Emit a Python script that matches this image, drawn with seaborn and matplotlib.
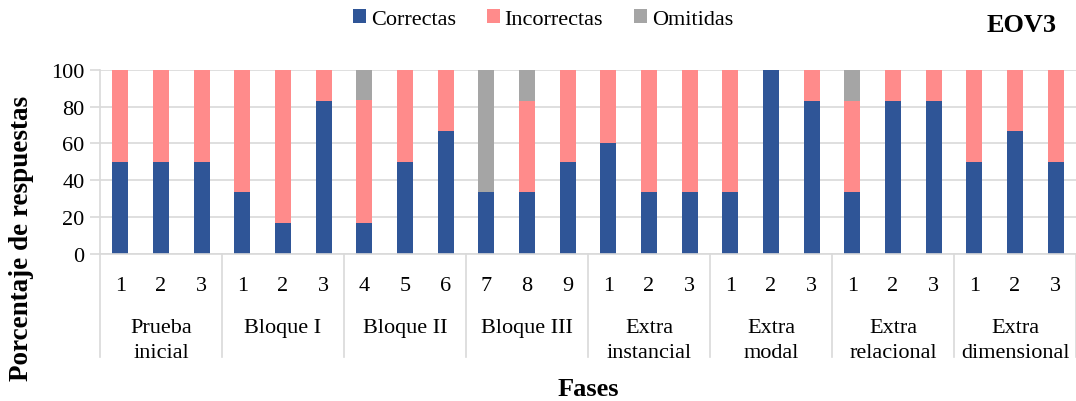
import numpy as np
import pandas as pd
import matplotlib
matplotlib.use("Agg")
import matplotlib.pyplot as plt
import matplotlib.transforms as mtransforms
from matplotlib.patches import Patch
import seaborn as sns

# data
grupos = ["Prueba\ninicial", "Bloque I", "Bloque II", "Bloque III",
          "Extra\ninstancial", "Extra\nmodal", "Extra\nrelacional", "Extra\ndimensional"]
ensayos = [["1", "2", "3"], ["1", "2", "3"], ["4", "5", "6"], ["7", "8", "9"],
           ["1", "2", "3"], ["1", "2", "3"], ["1", "2", "3"], ["1", "2", "3"]]
correctas = [50, 50, 50, 33.3, 16.7, 83.3, 16.7, 50, 66.7, 33.3, 33.3, 50,
             60, 33.3, 33.3, 33.3, 100, 83.3, 33.3, 83.3, 83.3, 50, 66.7, 50]
incorrectas = [50, 50, 50, 66.7, 83.3, 16.7, 66.7, 50, 33.3, 0, 50, 50,
               40, 66.7, 66.7, 66.7, 0, 16.7, 50, 16.7, 16.7, 50, 33.3, 50]
omitidas = [0, 0, 0, 0, 0, 0, 16.6, 0, 0, 66.7, 16.7, 0,
            0, 0, 0, 0, 0, 0, 16.7, 0, 0, 0, 0, 0]

series = ["Correctas", "Incorrectas", "Omitidas"]
colores = ["#2F5597", "#FF8B8B", "#A5A5A5"]

etiquetas = [e for grupo in ensayos for e in grupo]
claves = [f"{g}|{i}" for g in range(len(grupos)) for i in range(3)]
df = pd.DataFrame({"clave": claves, "C": correctas, "I": incorrectas, "O": omitidas})
df["CI"] = df["C"] + df["I"]
df["CIO"] = df["CI"] + df["O"]

plt.rcParams["font.family"] = ["Liberation Serif", "DejaVu Serif"]
fig = plt.figure(figsize=(10.76, 4.02), dpi=100)
ax = fig.add_axes([100 / 1076, 1 - 254.5 / 402, 976 / 1076, 183.5 / 402])

# stacked bars: draw cumulative totals from the tallest down
for col, color in zip(["CIO", "CI", "C"], colores[::-1]):
    sns.barplot(data=df, x="clave", y=col, order=claves, color=color,
                width=0.4, ax=ax, saturation=1, edgecolor="none")

ax.set_ylim(0, 100)
ax.set_xlim(-0.5, len(claves) - 0.5)
ax.set_yticks(range(0, 101, 20))
ax.yaxis.grid(True, color="#D9D9D9", linewidth=1.2)
ax.set_axisbelow(True)
ax.tick_params(axis="y", length=7, color="#D9D9D9", width=1.2, labelsize=16, pad=4)
ax.tick_params(axis="x", length=0, labelsize=16, pad=16)
ax.set_xticks(range(len(claves)))
ax.set_xticklabels(etiquetas)
ax.set_xlabel("")
ax.set_ylabel("")
for s in ["top", "right"]:
    ax.spines[s].set_visible(False)
ax.spines["left"].set_color("#D9D9D9")
ax.spines["bottom"].set_color("#D9D9D9")
ax.spines["left"].set_linewidth(1.2)
ax.spines["bottom"].set_linewidth(1.2)

# group separators and group labels
trans = mtransforms.blended_transform_factory(ax.transData, ax.transAxes)
for k in range(len(grupos) + 1):
    ax.plot([k * 3 - 0.5, k * 3 - 0.5], [0, -0.565], color="#D9D9D9",
            linewidth=1.2, transform=trans, clip_on=False)
for k, g in enumerate(grupos):
    ax.text(k * 3 + 1, -0.35, g, transform=trans, ha="center", va="top",
            fontsize=16, linespacing=1.45)

fig.text(22 / 1076, 1 - 238 / 402, "Porcentaje de respuestas", rotation=90,
         ha="center", va="center", fontsize=19.5, fontweight="bold")
fig.text(588 / 1076, 1 - 390 / 402, "Fases", ha="center", va="center",
         fontsize=19, fontweight="bold")
fig.text(1022 / 1076, 1 - 25 / 402, "EOV3", ha="center", va="center",
         fontsize=19, fontweight="bold")

handles = [Patch(facecolor=c, label=s) for s, c in zip(series, colores)]
fig.legend(handles=handles, loc="center", bbox_to_anchor=(543 / 1076, 1 - 20 / 402),
           ncol=3, frameon=False, fontsize=16, handlelength=0.6, handleheight=0.6,
           handletextpad=0.2, columnspacing=1.4)

fig.savefig("out.png", dpi=100)
